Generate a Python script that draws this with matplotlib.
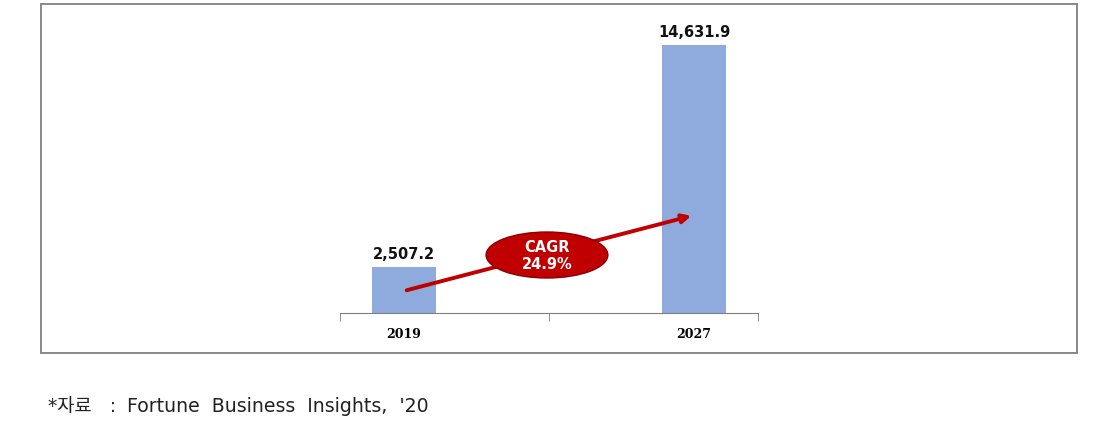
import numpy as np
import matplotlib.pyplot as plt
from matplotlib.patches import Rectangle, Ellipse

years = ['2019', '2027']
values = [2507.2, 14631.9]
value_labels = ['2,507.2', '14,631.9']
cagr_text = 'CAGR\n24.9%'
source_label = '*자료   :'
source_text = 'Fortune  Business  Insights,  \'20'

plt.rcParams['font.family'] = ['DejaVu Sans', 'Noto Sans CJK KR']

fig = plt.figure(figsize=(11.12, 4.35), dpi=100)
W, H = 1112, 435

# outer frame
fig.patches.append(Rectangle((41 / W, 1 - 354 / H), (1077 - 41) / W, (354 - 5) / H,
                             transform=fig.transFigure, fill=False,
                             edgecolor='#7f7f7f', linewidth=1.3))

ax = fig.add_axes([340 / W, 1 - 314 / H, 418 / W, 294 / H])
x = np.arange(len(years))
ax.bar(x, values, width=0.224, color='#8FAADC', zorder=2)
ax.set_xlim(-0.2207, 1.2207)
ax.set_ylim(0, 16048)

for xi, v, lab in zip(x, values, value_labels):
    ax.text(xi, v + 350, lab, ha='center', va='bottom', fontsize=10.5,
            fontweight='bold', family='DejaVu Sans', color='#111111')

ax.set_xticks(x)
ax.set_xticklabels(years, fontsize=9, fontweight='bold', family='DejaVu Serif')
ax.set_xticks([-0.2207, 0.5, 1.2207], minor=True)
ax.tick_params(axis='x', which='major', length=0, pad=10)
ax.tick_params(axis='x', which='minor', length=6, color='#7f7f7f')
ax.set_yticks([])
for s in ['top', 'left', 'right']:
    ax.spines[s].set_visible(False)
ax.spines['bottom'].set_color('#7f7f7f')

# growth arrow
ax.annotate('', xy=(1.0, values[0] * 2.13), xytext=(0.0, values[0] * 0.48),
            arrowprops=dict(arrowstyle='-|>', color='#C00000', lw=2.8,
                            mutation_scale=13), zorder=3)
ax.add_patch(Ellipse((0.493, 3166), 0.42, 2511, facecolor='#C00000',
                     edgecolor='#8B0000', linewidth=1, zorder=4))
ax.text(0.493, 3166, cagr_text, ha='center', va='center', color='white',
        fontsize=10.5, fontweight='bold', family='DejaVu Sans', zorder=5,
        linespacing=1.15)

fig.text(48 / W, 1 - 407 / H, source_label, fontsize=13.5, va='center', ha='left',
         color='#222222')
fig.text(127 / W, 1 - 407 / H, source_text, fontsize=13.6, va='center', ha='left',
         color='#222222')

fig.savefig('out.png', dpi=100)
